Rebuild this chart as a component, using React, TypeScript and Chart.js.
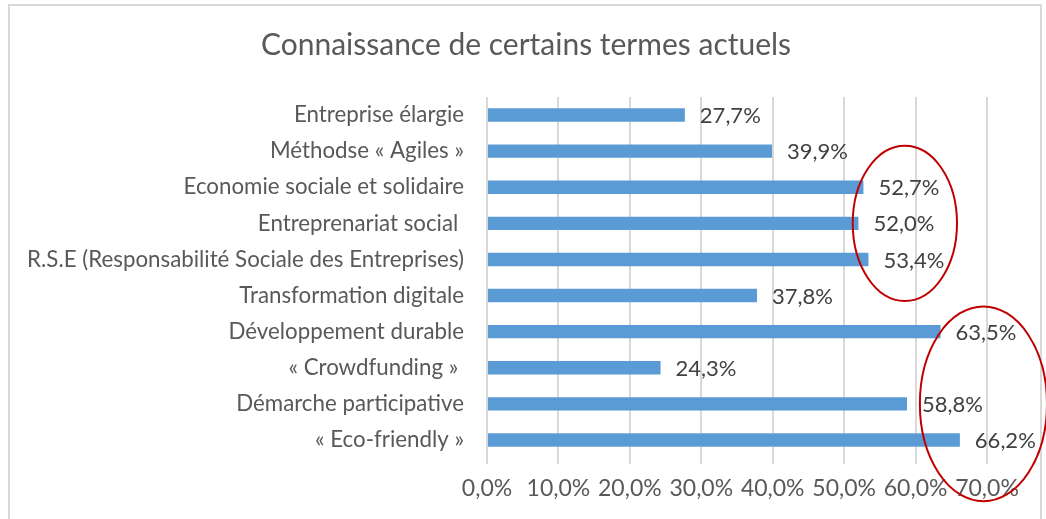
import React, { useEffect, useRef } from "react";
import { Chart, registerables } from "chart.js";

Chart.register(...registerables);

const title = "Connaissance de certains termes actuels";
const categories = [
  "Entreprise élargie",
  "Méthodse « Agiles »",
  "Economie sociale et solidaire",
  "Entreprenariat social ",
  "R.S.E (Responsabilité Sociale des Entreprises)",
  "Transformation digitale",
  "Développement durable",
  "« Crowdfunding » ",
  "Démarche participative",
  "« Eco-friendly »",
];
const values = [27.7, 39.9, 52.7, 52.0, 53.4, 37.8, 63.5, 24.3, 58.8, 66.2];
const xTicks = [0, 10, 20, 30, 40, 50, 60, 70];

// Hand-drawn red ellipses (annotation): centre value, centre category index, radius in value units, radius in categories
const ellipseCenterValues = [58.5, 69.5];
const ellipseCenterCategories = [3.0, 8.0];
const ellipseRadiusValues = [7.3, 8.9];
const ellipseRadiusCategories = [2.15, 2.7];

const fmt = (v: number) => v.toFixed(1).replace(".", ",") + "%";
const FONT = "Lato, 'Open Sans', sans-serif";

const titlePlugin = {
  id: "centeredTitle",
  afterDraw(chart: any) {
    const ctx = chart.ctx;
    ctx.save();
    ctx.font = `30px ${FONT}`;
    ctx.fillStyle = "#595959";
    ctx.textAlign = "center";
    ctx.textBaseline = "middle";
    ctx.fillText(title, 526, 45);
    ctx.restore();
  },
};

const dataLabelPlugin = {
  id: "dataLabels",
  afterDatasetsDraw(chart: any) {
    const ctx = chart.ctx;
    const meta = chart.getDatasetMeta(0);
    ctx.save();
    ctx.font = `22px ${FONT}`;
    ctx.fillStyle = "#404040";
    ctx.textAlign = "left";
    ctx.textBaseline = "middle";
    meta.data.forEach((bar: any, i: number) => {
      ctx.fillText(fmt(values[i]), bar.x + 15, bar.y + 1);
    });
    ctx.restore();
  },
};

const ellipsePlugin = {
  id: "ellipses",
  afterDraw(chart: any) {
    const ctx = chart.ctx;
    const xs = chart.scales.x;
    const ys = chart.scales.y;
    ctx.save();
    ctx.strokeStyle = "#C00000";
    ctx.lineWidth = 2;
    ellipseCenterValues.forEach((cv, i) => {
      const cx = xs.getPixelForValue(cv);
      const cy = ys.getPixelForValue(ellipseCenterCategories[i]);
      const rx = Math.abs(xs.getPixelForValue(cv + ellipseRadiusValues[i]) - cx);
      const ry = Math.abs(ys.getPixelForValue(ellipseCenterCategories[i] + ellipseRadiusCategories[i]) - cy);
      ctx.beginPath();
      ctx.ellipse(cx, cy, rx, ry, 0, 0, Math.PI * 2);
      ctx.stroke();
    });
    ctx.restore();
  },
};

export default function App() {
  const ref = useRef<HTMLCanvasElement | null>(null);
  useEffect(() => {
    if (!ref.current) return;
    const chart = new Chart(ref.current, {
      type: "bar",
      data: {
        labels: categories,
        datasets: [
          {
            data: values,
            backgroundColor: "#5B9BD5",
            categoryPercentage: 1,
            barPercentage: 0.37,
          },
        ],
      },
      options: {
        indexAxis: "y",
        animation: false,
        responsive: false,
        maintainAspectRatio: false,
        layout: { padding: { left: 8, right: 59, top: 97, bottom: 0 } },
        plugins: {
          legend: { display: false },
          tooltip: { enabled: false },
          title: { display: false },
        },
        scales: {
          x: {
            min: 0,
            max: 70,
            afterFit: (s: any) => {
              s.height = 61;
            },
            afterBuildTicks: (s: any) => {
              s.ticks = xTicks.map((v) => ({ value: v }));
            },
            ticks: {
              color: "#595959",
              font: { family: FONT, size: 23 },
              padding: 11,
              maxRotation: 0,
              callback: (v: any) => fmt(Number(v)),
            },
            grid: {
              color: "#D9D9D9",
              lineWidth: 2,
              tickLength: 6,
              drawTicks: true,
            },
            border: { display: false },
          },
          y: {
            afterFit: (s: any) => {
              s.width = 479;
            },
            ticks: {
              color: "#595959",
              font: { family: FONT, size: 22.3 },
              padding: 15,
              autoSkip: false,
            },
            grid: { display: false },
            border: { display: false },
          },
        },
      },
      plugins: [titlePlugin, dataLabelPlugin, ellipsePlugin],
    } as any);
    return () => chart.destroy();
  }, []);
  return (
    <div style={{ position: "fixed", left: 0, top: 0, width: 1046, height: 519, background: "#fff" }}>
      <div
        style={{
          position: "absolute",
          left: 8,
          top: 4,
          width: 1034,
          height: 530,
          border: "2px solid #D9D9D9",
          boxSizing: "border-box",
        }}
      />
      <canvas ref={ref} width={1046} height={519} style={{ position: "absolute", left: 0, top: 0 }} />
    </div>
  );
}
